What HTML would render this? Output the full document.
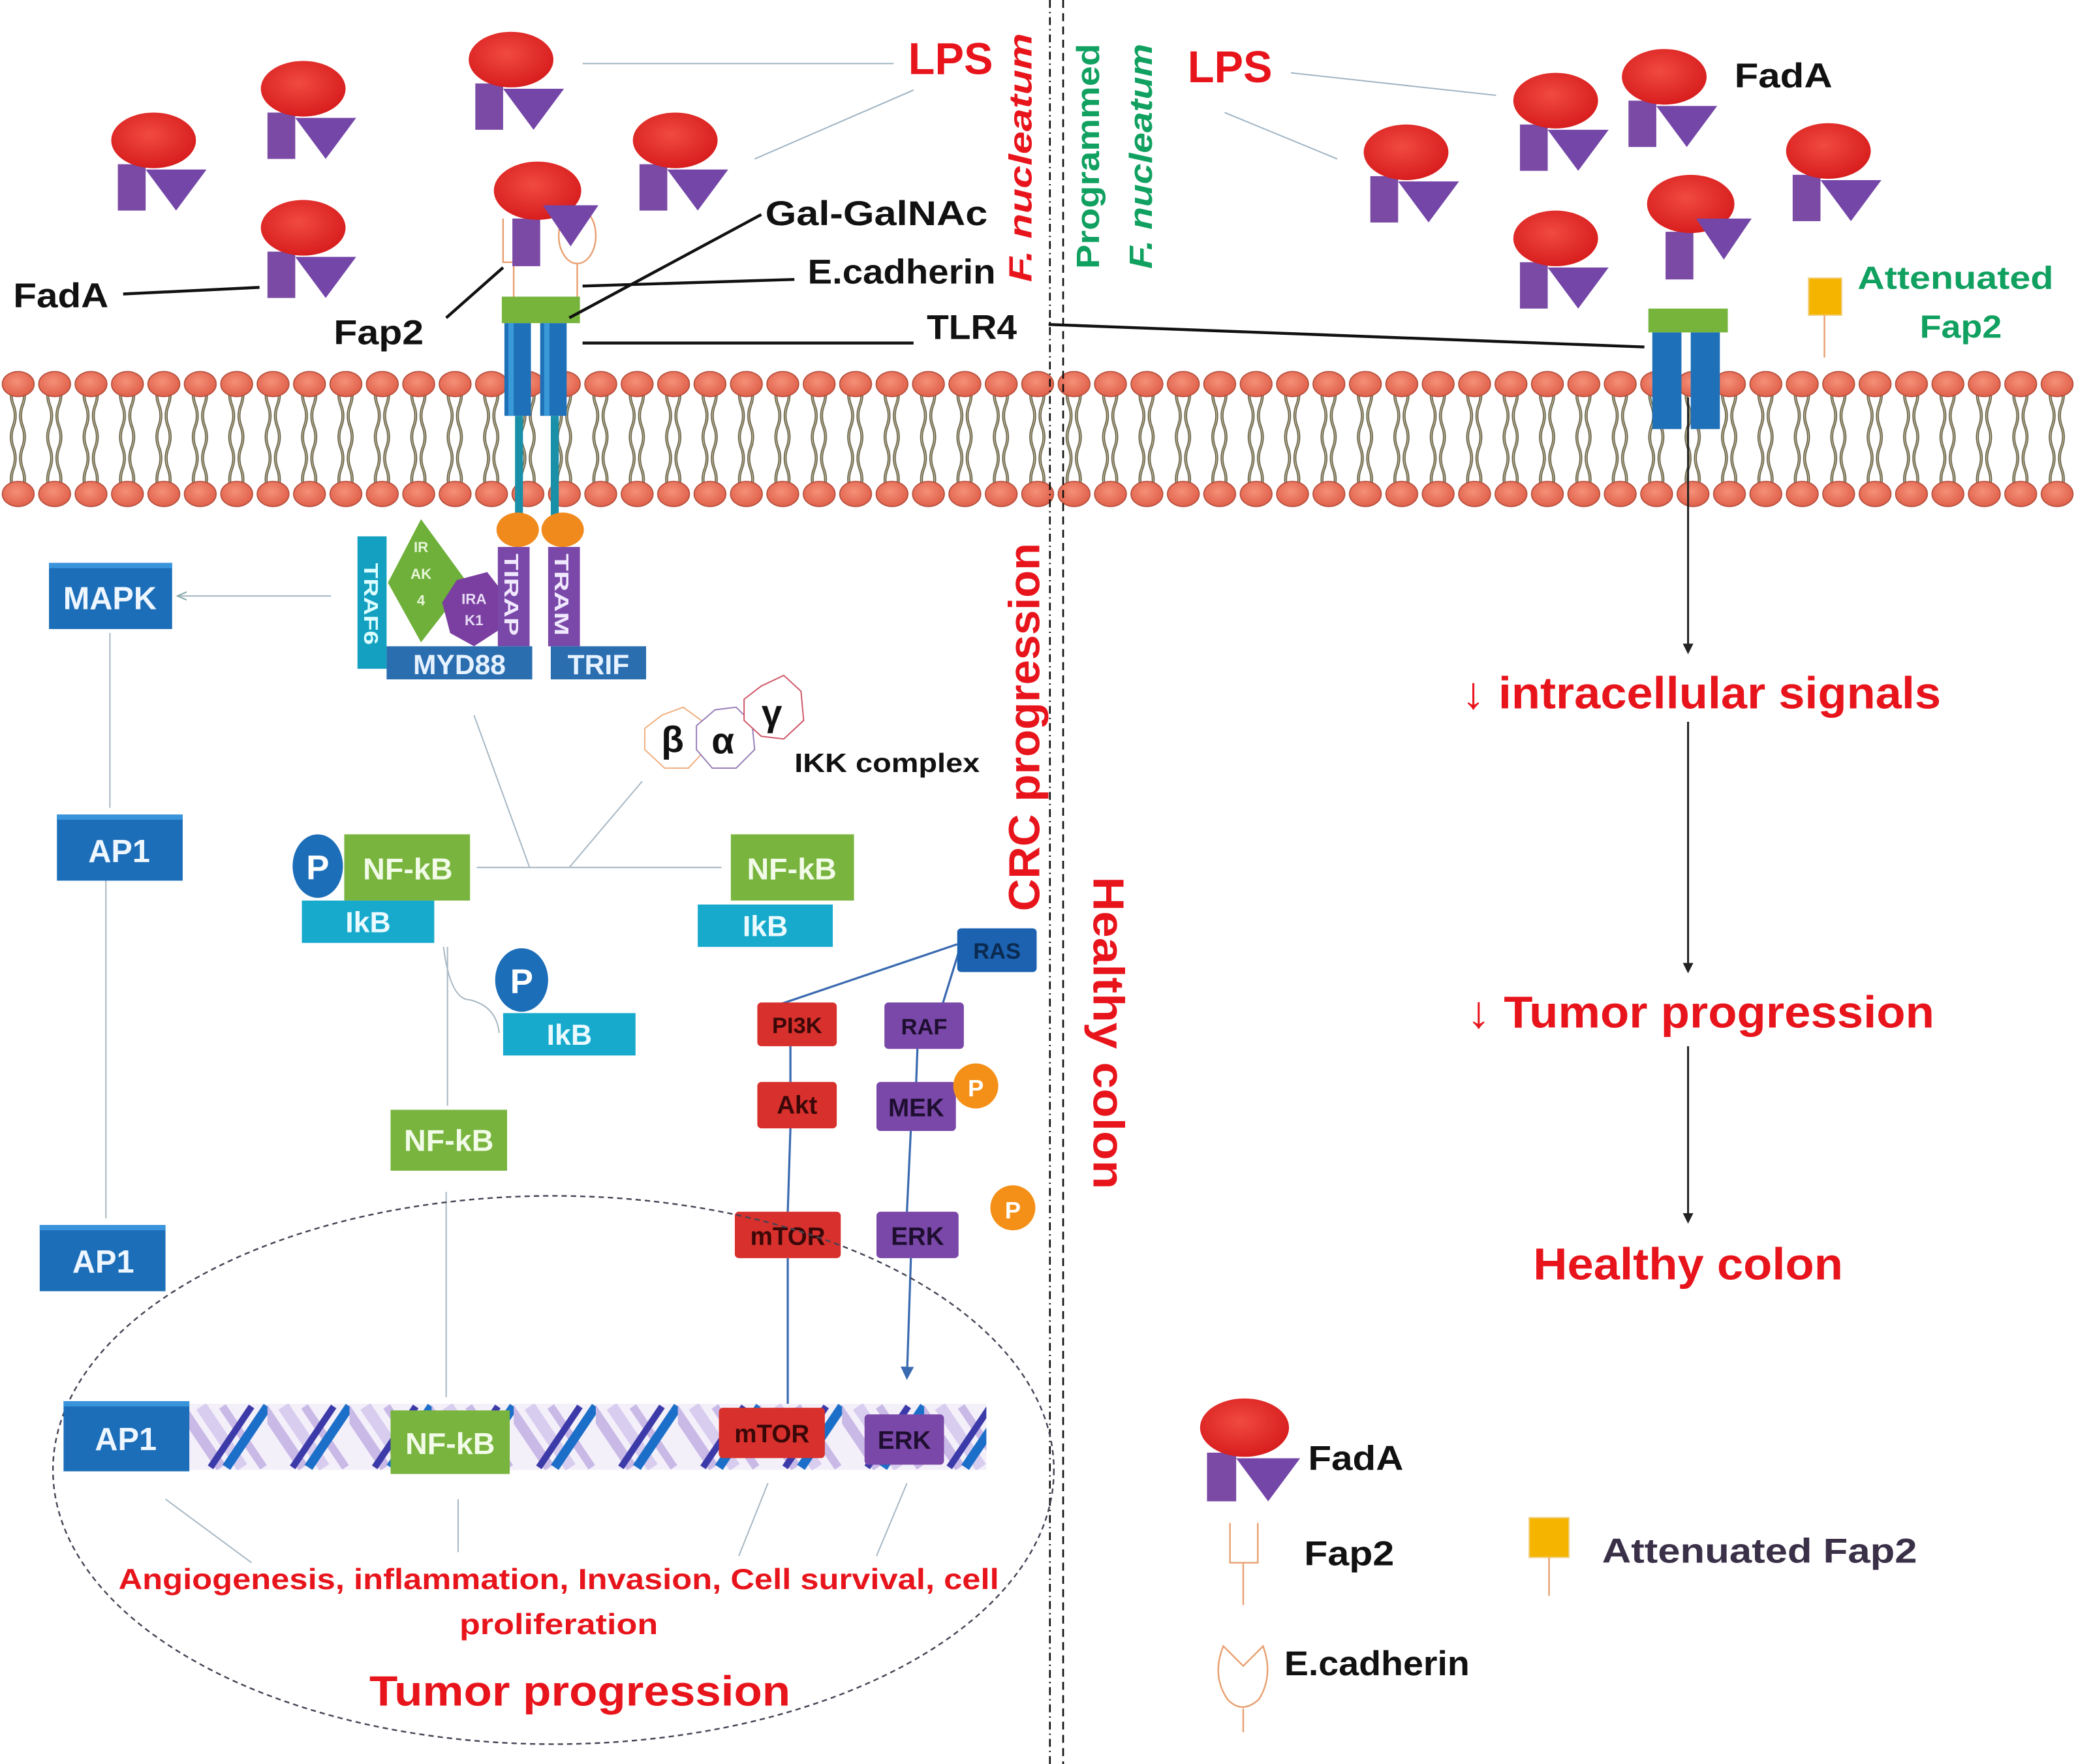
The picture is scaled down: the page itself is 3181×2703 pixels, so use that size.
<!DOCTYPE html>
<html><head><meta charset="utf-8"><style>html,body{margin:0;padding:0;background:#fff}svg{display:block}
text{font-family:"Liberation Sans Narrow","Liberation Sans",sans-serif;font-weight:bold}</style></head>
<body>
<svg width="3181" height="2703" viewBox="0 0 1568 1332" preserveAspectRatio="none" xmlns="http://www.w3.org/2000/svg">
<defs>
<radialGradient id="rg" cx="0.45" cy="0.4" r="0.6"><stop offset="0" stop-color="#f04a40"/><stop offset="1" stop-color="#d81e1e"/></radialGradient>
<radialGradient id="hg" cx="0.45" cy="0.4" r="0.6"><stop offset="0" stop-color="#f59078"/><stop offset="1" stop-color="#e0604a"/></radialGradient>
<g id="bac">
<rect x="-27" y="18" width="21" height="35" fill="#7a4aa5"/>
<polygon points="-6,22 40,22 17,53" fill="#7446a8"/>
<ellipse cx="0" cy="0" rx="32" ry="21" fill="url(#rg)"/>
</g>
<g id="bac2">
<rect x="-19" y="21" width="21" height="36" fill="#7a4aa5"/>
<ellipse cx="0" cy="0" rx="33" ry="22" fill="url(#rg)"/>
<polygon points="4,11 46,11 25,42" fill="#7446a8"/>
</g>
<pattern id="mem" x="0" y="280" width="27.5" height="104" patternUnits="userSpaceOnUse">
<path d="M10,10 q-3,8 0,16 q3,8 0,16 q-3,8 0,16 q3,8 0,16 q-3,8 0,16" stroke="#5a5540" stroke-width="2.2" fill="none"/>
<path d="M17,10 q3,8 0,16 q-3,8 0,16 q3,8 0,16 q-3,8 0,16 q3,8 0,16" stroke="#5a5540" stroke-width="2.2" fill="none"/>
<path d="M10,10 q-3,8 0,16 q3,8 0,16 q-3,8 0,16 q3,8 0,16 q-3,8 0,16" stroke="#b5ad8a" stroke-width="0.9" fill="none"/>
<path d="M17,10 q3,8 0,16 q-3,8 0,16 q3,8 0,16 q-3,8 0,16 q3,8 0,16" stroke="#b5ad8a" stroke-width="0.9" fill="none"/>
<ellipse cx="13.75" cy="10" rx="12" ry="9.5" fill="url(#hg)" stroke="#b04a38" stroke-width="0.8"/>
<ellipse cx="13.75" cy="93" rx="12" ry="9.5" fill="url(#hg)" stroke="#b04a38" stroke-width="0.8"/>
</pattern>
<pattern id="dna" x="140" y="1060" width="62" height="50" patternUnits="userSpaceOnUse">
<rect width="62" height="50" fill="#f4f0fa"/>
<path d="M-4,2 L27,48" stroke="#c9b9e6" stroke-width="8" fill="none"/>
<path d="M12,2 L43,48" stroke="#d8cdef" stroke-width="9" fill="none"/>
<path d="M28,2 L59,48" stroke="#c9b9e6" stroke-width="6" fill="none"/>
<path d="M62,2 L31,48" stroke="#1c6fc8" stroke-width="7" fill="none"/>
<path d="M50,2 L19,48" stroke="#3b3aa8" stroke-width="5" fill="none"/>
</pattern>
<marker id="ar" markerWidth="8" markerHeight="8" refX="6" refY="4" orient="auto" markerUnits="userSpaceOnUse"><path d="M0,0 L8,4 L0,8 z" fill="#222"/></marker>
<marker id="arb" markerWidth="10" markerHeight="10" refX="8" refY="5" orient="auto" markerUnits="userSpaceOnUse"><path d="M0,0 L10,5 L0,10 z" fill="#3a6ab0"/></marker>
<marker id="arg" markerWidth="8" markerHeight="8" refX="6" refY="4" orient="auto" markerUnits="userSpaceOnUse"><path d="M0,1 L7,4 L0,7" fill="none" stroke="#8aa" stroke-width="1"/></marker>
</defs>

<!-- membrane -->
<rect x="0" y="280" width="1568" height="104" fill="url(#mem)"/>

<!-- dashed separators -->
<line x1="793" y1="0" x2="793" y2="1332" stroke="#111" stroke-width="1.3" stroke-dasharray="6,3,1,3"/>
<line x1="803" y1="0" x2="803" y2="1332" stroke="#111" stroke-width="1.3" stroke-dasharray="6,4"/>

<!-- thin connector lines top -->
<g stroke="#9fb4c4" stroke-width="1" fill="none">
<line x1="440" y1="48" x2="675" y2="48"/>
<line x1="570" y1="120" x2="690" y2="68"/>
<line x1="975" y1="55" x2="1130" y2="72"/>
<line x1="925" y1="85" x2="1010" y2="120"/>
</g>

<!-- bacteria left -->
<use href="#bac" x="116" y="106"/>
<use href="#bac" x="229" y="67"/>
<use href="#bac" x="386" y="45"/>
<use href="#bac" x="510" y="106"/>
<use href="#bac" x="229" y="172"/>
<g>
<path d="M380,165 V198 H395 V165" fill="none" stroke="#e8a070" stroke-width="1.2"/>
<line x1="388" y1="198" x2="388" y2="226" stroke="#e8a070" stroke-width="1.2"/>
<ellipse cx="436" cy="178" rx="14" ry="21" fill="none" stroke="#e8a070" stroke-width="1.2"/>
<line x1="436" y1="199" x2="436" y2="226" stroke="#e8a070" stroke-width="1.2"/>
<use href="#bac2" x="406" y="144"/>
</g>
<!-- bacteria right -->
<use href="#bac" x="1062" y="115"/>
<use href="#bac" x="1175" y="76"/>
<use href="#bac" x="1257" y="58"/>
<use href="#bac" x="1381" y="114"/>
<use href="#bac" x="1175" y="180"/>
<use href="#bac2" x="1277" y="154"/>

<!-- left TLR4 -->
<rect x="379" y="224" width="59" height="20" fill="#76b43c"/>
<rect x="381" y="244" width="20" height="70" fill="#1e70b8"/>
<rect x="408" y="244" width="20" height="70" fill="#1e70b8"/>
<rect x="384" y="244" width="4" height="70" fill="#3a9ad8"/>
<rect x="411" y="244" width="4" height="70" fill="#3a9ad8"/>
<rect x="389" y="314" width="6" height="80" fill="#1a8fa8"/>
<rect x="416" y="314" width="6" height="80" fill="#1a8fa8"/>
<ellipse cx="391" cy="400" rx="16" ry="13" fill="#f08a1c"/>
<ellipse cx="425" cy="400" rx="16" ry="13" fill="#f08a1c"/>

<!-- right TLR4 -->
<rect x="1245" y="233" width="60" height="18" fill="#76b43c"/>
<rect x="1248" y="251" width="22" height="73" fill="#1e70b8"/>
<rect x="1277" y="251" width="22" height="73" fill="#1e70b8"/>
<rect x="1366" y="210" width="25" height="28" fill="#f5b400" stroke="#f0d080" stroke-width="1"/>
<line x1="1378" y1="238" x2="1378" y2="270" stroke="#e8a070" stroke-width="1.2"/>

<!-- label leader lines -->
<g stroke="#111" stroke-width="2.2" fill="none">
<line x1="93" y1="222" x2="196" y2="217"/>
<line x1="337" y1="240" x2="380" y2="202"/>
<line x1="430" y1="240" x2="575" y2="162"/>
<line x1="440" y1="216" x2="600" y2="211"/>
<line x1="440" y1="259" x2="690" y2="259"/>
<line x1="792" y1="245" x2="1242" y2="262"/>
</g>

<!-- top labels -->
<text x="686" y="56" font-size="34" fill="#e8141c" textLength="64" lengthAdjust="spacingAndGlyphs">LPS</text>
<text x="897" y="62" font-size="34" fill="#e8141c" textLength="64" lengthAdjust="spacingAndGlyphs">LPS</text>
<text x="10" y="232" font-size="26" fill="#111" textLength="72" lengthAdjust="spacingAndGlyphs">FadA</text>
<text x="252" y="260" font-size="26" fill="#111" textLength="68" lengthAdjust="spacingAndGlyphs">Fap2</text>
<text x="578" y="170" font-size="26" fill="#111" textLength="168" lengthAdjust="spacingAndGlyphs">Gal-GalNAc</text>
<text x="610" y="214" font-size="26" fill="#111" textLength="142" lengthAdjust="spacingAndGlyphs">E.cadherin</text>
<text x="700" y="256" font-size="26" fill="#111" textLength="68" lengthAdjust="spacingAndGlyphs">TLR4</text>
<text x="1310" y="66" font-size="26" fill="#111" textLength="74" lengthAdjust="spacingAndGlyphs">FadA</text>
<text x="1403" y="218" font-size="24" fill="#10a060" textLength="148" lengthAdjust="spacingAndGlyphs">Attenuated</text>
<text x="1450" y="255" font-size="24" fill="#10a060" textLength="62" lengthAdjust="spacingAndGlyphs">Fap2</text>
<text transform="translate(779,213) rotate(-90)" font-size="24" fill="#e8141c" font-style="italic" textLength="188" lengthAdjust="spacingAndGlyphs">F. nucleatum</text>
<text transform="translate(830,203) rotate(-90)" font-size="24" fill="#10a060" textLength="170" lengthAdjust="spacingAndGlyphs">Programmed</text>
<text transform="translate(870,203) rotate(-90)" font-size="24" fill="#10a060" font-style="italic" textLength="170" lengthAdjust="spacingAndGlyphs">F. nucleatum</text>
<text transform="translate(785,688) rotate(-90)" font-size="33" fill="#e8141c" font-family="Liberation Sans" textLength="278" lengthAdjust="spacingAndGlyphs">CRC progression</text>
<text transform="translate(826,662) rotate(90)" font-size="33" fill="#e8141c" textLength="236" lengthAdjust="spacingAndGlyphs">Healthy colon</text>

<!-- right pathway -->
<g stroke="#222" stroke-width="1.5">
<line x1="1275" y1="300" x2="1275" y2="492" marker-end="url(#ar)"/>
<line x1="1275" y1="545" x2="1275" y2="733" marker-end="url(#ar)"/>
<line x1="1275" y1="790" x2="1275" y2="922" marker-end="url(#ar)"/>
</g>
<text x="1104" y="535" font-size="34" fill="#e8141c" textLength="362" lengthAdjust="spacingAndGlyphs">↓ intracellular signals</text>
<text x="1108" y="776" font-size="34" fill="#e8141c" textLength="353" lengthAdjust="spacingAndGlyphs">↓ Tumor progression</text>
<text x="1158" y="966" font-size="34" fill="#e8141c" textLength="234" lengthAdjust="spacingAndGlyphs">Healthy colon</text>

<!-- adaptor complex -->
<rect x="270" y="405" width="22" height="100" fill="#14a0c0"/>
<text transform="translate(275,425) rotate(90)" font-size="15" fill="#dff" textLength="62" lengthAdjust="spacingAndGlyphs">TRAF6</text>
<polygon points="318,392 353,440 318,485 293,440" fill="#6eb03a"/>
<text x="318" y="417" font-size="11" fill="#e8f5d8" text-anchor="middle" font-weight="normal">IR</text>
<text x="318" y="437" font-size="11" fill="#e8f5d8" text-anchor="middle" font-weight="normal">AK</text>
<text x="318" y="457" font-size="11" fill="#e8f5d8" text-anchor="middle" font-weight="normal">4</text>
<polygon points="345,438 368,432 382,450 378,475 358,488 340,478 334,455" fill="#7a3fa0"/>
<text x="358" y="456" font-size="11" fill="#e8dcf5" text-anchor="middle" font-weight="normal">IRA</text>
<text x="358" y="472" font-size="11" fill="#e8dcf5" text-anchor="middle" font-weight="normal">K1</text>
<rect x="376" y="413" width="24" height="75" fill="#7a48a8"/>
<text transform="translate(381,418) rotate(90)" font-size="15" fill="#f0e8ff" textLength="62" lengthAdjust="spacingAndGlyphs">TIRAP</text>
<rect x="414" y="413" width="24" height="75" fill="#7a48a8"/>
<text transform="translate(419,418) rotate(90)" font-size="15" fill="#f0e8ff" textLength="62" lengthAdjust="spacingAndGlyphs">TRAM</text>
<rect x="292" y="488" width="110" height="25" fill="#2a6eb0"/>
<text x="347" y="509" font-size="21" fill="#e6f2ff" text-anchor="middle">MYD88</text>
<rect x="416" y="488" width="72" height="25" fill="#2a6eb0"/>
<text x="452" y="509" font-size="21" fill="#e6f2ff" text-anchor="middle">TRIF</text>

<!-- IKK complex -->
<polygon points="500,540 516,534 531,545 533,566 520,580 502,580 487,566 487,550" fill="#fff" stroke="#f0b080" stroke-width="1"/>
<text x="508" y="568" font-size="28" fill="#111" text-anchor="middle" font-weight="normal">β</text>
<polygon points="540,536 556,534 568,546 570,566 556,580 538,580 526,566 526,548" fill="#fff" stroke="#9a80b8" stroke-width="1"/>
<text x="546" y="569" font-size="28" fill="#111" text-anchor="middle" font-weight="normal">α</text>
<polygon points="575,518 592,510 605,522 607,544 592,558 575,556 562,544 562,528" fill="#fff" stroke="#d05a6a" stroke-width="1"/>
<text x="583" y="548" font-size="28" fill="#111" text-anchor="middle" font-weight="normal">γ</text>
<text x="600" y="583" font-size="20" fill="#111" font-weight="normal" textLength="140" lengthAdjust="spacingAndGlyphs">IKK complex</text>

<!-- left column connectors -->
<g stroke="#a8b8c4" stroke-width="1" fill="none">
<line x1="250" y1="450" x2="135" y2="450" marker-end="url(#arg)"/>
<line x1="83" y1="478" x2="83" y2="610"/>
<line x1="80" y1="665" x2="80" y2="920"/>
<line x1="358" y1="540" x2="400" y2="655"/>
<line x1="485" y1="590" x2="430" y2="655"/>
<line x1="545" y1="655" x2="360" y2="655"/>
<path d="M335,715 q5,40 20,40 q20,5 22,25"/>
<line x1="338" y1="715" x2="338" y2="835"/>
<line x1="337" y1="900" x2="337" y2="1055"/>
<line x1="125" y1="1132" x2="190" y2="1180"/>
<line x1="346" y1="1132" x2="346" y2="1172"/>
<line x1="580" y1="1120" x2="558" y2="1175"/>
<line x1="685" y1="1120" x2="662" y2="1175"/>
</g>

<!-- boxes -->
<rect x="37" y="425" width="93" height="50" fill="#1c6eb8"/><rect x="37" y="425" width="93" height="4" fill="#3a94dc"/>
<text x="83" y="460" font-size="24" fill="#eef6ff" text-anchor="middle">MAPK</text>
<rect x="43" y="615" width="95" height="50" fill="#1c6eb8"/><rect x="43" y="615" width="95" height="4" fill="#3a94dc"/>
<text x="90" y="651" font-size="24" fill="#eef6ff" text-anchor="middle">AP1</text>
<rect x="30" y="925" width="95" height="50" fill="#1c6eb8"/><rect x="30" y="925" width="95" height="4" fill="#3a94dc"/>
<text x="78" y="961" font-size="24" fill="#eef6ff" text-anchor="middle">AP1</text>

<rect x="260" y="630" width="95" height="50" fill="#78b43e"/>
<text x="308" y="664" font-size="23" fill="#f2fbe8" text-anchor="middle">NF-kB</text>
<rect x="228" y="680" width="100" height="32" fill="#17aacc"/>
<text x="278" y="704" font-size="22" fill="#eafaff" text-anchor="middle">IkB</text>
<ellipse cx="240" cy="654" rx="19" ry="24" fill="#1c6eb8"/>
<text x="240" y="664" font-size="26" fill="#fff" text-anchor="middle">P</text>

<rect x="552" y="630" width="93" height="50" fill="#78b43e"/>
<text x="598" y="664" font-size="23" fill="#f2fbe8" text-anchor="middle">NF-kB</text>
<rect x="527" y="683" width="102" height="32" fill="#17aacc"/>
<text x="578" y="707" font-size="22" fill="#eafaff" text-anchor="middle">IkB</text>

<rect x="380" y="765" width="100" height="32" fill="#17aacc"/>
<text x="430" y="789" font-size="22" fill="#eafaff" text-anchor="middle">IkB</text>
<ellipse cx="394" cy="740" rx="20" ry="24" fill="#1c6eb8"/>
<text x="394" y="750" font-size="26" fill="#fff" text-anchor="middle">P</text>

<rect x="295" y="838" width="88" height="46" fill="#78b43e"/>
<text x="339" y="869" font-size="23" fill="#f2fbe8" text-anchor="middle">NF-kB</text>

<!-- RAS pathway -->
<g stroke="#3a6ab0" stroke-width="1.6" fill="none">
<line x1="723" y1="713" x2="590" y2="758"/>
<line x1="725" y1="716" x2="712" y2="758"/>
<line x1="597" y1="790" x2="597" y2="817"/>
<line x1="693" y1="790" x2="692" y2="817"/>
<line x1="597" y1="852" x2="595" y2="915"/>
<line x1="688" y1="852" x2="685" y2="915"/>
<line x1="595" y1="950" x2="595" y2="1060"/>
<line x1="688" y1="950" x2="685" y2="1040" marker-end="url(#arb)"/>
</g>
<rect x="723" y="701" width="60" height="33" rx="3" fill="#1c62b0"/>
<text x="753" y="724" font-size="17" fill="#0a2a50" text-anchor="middle">RAS</text>
<rect x="572" y="757" width="60" height="33" rx="3" fill="#d8302c"/>
<text x="602" y="780" font-size="17" fill="#3a0808" text-anchor="middle">PI3K</text>
<rect x="572" y="817" width="60" height="35" rx="3" fill="#d8302c"/>
<text x="602" y="841" font-size="19" fill="#3a0808" text-anchor="middle">Akt</text>
<rect x="555" y="915" width="80" height="35" rx="3" fill="#d8302c"/>
<text x="595" y="940" font-size="19" fill="#3a0808" text-anchor="middle">mTOR</text>
<rect x="668" y="757" width="60" height="35" rx="3" fill="#7a48a8"/>
<text x="698" y="781" font-size="17" fill="#1e0e30" text-anchor="middle">RAF</text>
<rect x="662" y="817" width="60" height="37" rx="3" fill="#7a48a8"/>
<text x="692" y="843" font-size="19" fill="#1e0e30" text-anchor="middle">MEK</text>
<circle cx="737" cy="820" r="17" fill="#f49018"/>
<text x="737" y="828" font-size="18" fill="#fff" text-anchor="middle" font-weight="normal">P</text>
<rect x="662" y="915" width="62" height="35" rx="3" fill="#7a48a8"/>
<text x="693" y="940" font-size="19" fill="#1e0e30" text-anchor="middle">ERK</text>
<circle cx="765" cy="912" r="17" fill="#f49018"/>
<text x="765" y="920" font-size="18" fill="#fff" text-anchor="middle" font-weight="normal">P</text>

<!-- nucleus ellipse -->
<ellipse cx="418" cy="1110" rx="378" ry="207" fill="none" stroke="#445" stroke-width="1.2" stroke-dasharray="4,3"/>

<!-- DNA -->
<rect x="140" y="1060" width="605" height="50" fill="url(#dna)"/>
<rect x="48" y="1058" width="95" height="53" fill="#1c6eb8"/><rect x="48" y="1058" width="95" height="4" fill="#3a94dc"/>
<text x="95" y="1095" font-size="24" fill="#eef6ff" text-anchor="middle">AP1</text>
<rect x="295" y="1065" width="90" height="48" fill="#78b43e"/>
<text x="340" y="1098" font-size="23" fill="#f2fbe8" text-anchor="middle">NF-kB</text>
<rect x="543" y="1063" width="80" height="38" rx="3" fill="#d8302c"/>
<text x="583" y="1089" font-size="19" fill="#3a0808" text-anchor="middle">mTOR</text>
<rect x="653" y="1068" width="60" height="38" rx="3" fill="#7a48a8"/>
<text x="683" y="1094" font-size="19" fill="#1e0e30" text-anchor="middle" font-weight="normal">ERK</text>

<text x="422" y="1200" font-size="22" fill="#e8141c" text-anchor="middle" textLength="665" lengthAdjust="spacingAndGlyphs">Angiogenesis, inflammation, Invasion, Cell survival, cell</text>
<text x="422" y="1234" font-size="22" fill="#e8141c" text-anchor="middle" textLength="150" lengthAdjust="spacingAndGlyphs">proliferation</text>
<text x="438" y="1288" font-size="32" fill="#e8141c" text-anchor="middle" textLength="318" lengthAdjust="spacingAndGlyphs">Tumor progression</text>

<!-- legend -->
<g transform="translate(940,1078) scale(1.05)"><use href="#bac" x="0" y="0"/></g>
<text x="988" y="1110" font-size="26" fill="#111" textLength="72" lengthAdjust="spacingAndGlyphs">FadA</text>
<path d="M929,1150 V1180 H950 V1150" fill="none" stroke="#e8a070" stroke-width="1.2"/>
<line x1="939" y1="1180" x2="939" y2="1212" stroke="#e8a070" stroke-width="1.2"/>
<text x="985" y="1182" font-size="26" fill="#111" textLength="68" lengthAdjust="spacingAndGlyphs">Fap2</text>
<rect x="1155" y="1146" width="30" height="30" fill="#f5b400" stroke="#f0d080" stroke-width="1"/>
<line x1="1170" y1="1176" x2="1170" y2="1205" stroke="#e8a070" stroke-width="1.2"/>
<text x="1210" y="1180" font-size="26" fill="#3a3048" textLength="238" lengthAdjust="spacingAndGlyphs">Attenuated Fap2</text>
<path d="M924,1243 Q915,1265 927,1283 Q938,1295 951,1283 Q962,1265 954,1243 L939,1258 Z" fill="none" stroke="#e8a070" stroke-width="1.2"/>
<line x1="939" y1="1290" x2="939" y2="1308" stroke="#e8a070" stroke-width="1.2"/>
<text x="970" y="1265" font-size="26" fill="#111" textLength="140" lengthAdjust="spacingAndGlyphs">E.cadherin</text>
</svg>
</body></html>
